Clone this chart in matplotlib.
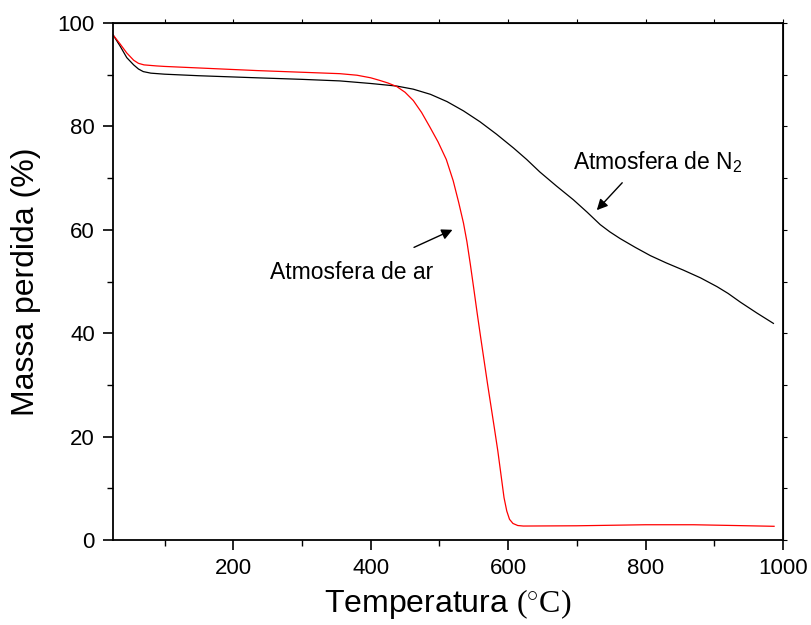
import numpy as np
import matplotlib
matplotlib.use("Agg")
import matplotlib.pyplot as plt
from matplotlib.ticker import MultipleLocator

plt.rcParams["font.family"] = ["Liberation Sans", "DejaVu Sans"]
plt.rcParams["mathtext.fontset"] = "custom"
plt.rcParams["mathtext.rm"] = "Liberation Serif"
plt.rcParams["mathtext.it"] = "Liberation Serif:italic"

# TGA curve under nitrogen (black)
temp_n2 = [25, 35, 45, 55, 62, 69, 80, 100, 150, 234, 300, 355, 400, 438,
           462, 487, 511, 535, 559, 583, 608, 627, 646, 670, 695, 715, 734,
           748, 763, 785, 807, 830, 855, 880, 904, 920, 938, 962, 986]
mass_n2 = [97.7, 95.6, 93.3, 91.9, 91.1, 90.6, 90.3, 90.1, 89.8, 89.4, 89.1,
           88.8, 88.3, 87.8, 87.2, 86.2, 84.8, 83.0, 80.9, 78.5, 75.8, 73.6,
           71.2, 68.5, 65.8, 63.4, 61.0, 59.6, 58.3, 56.6, 55.0, 53.6, 52.2,
           50.7, 49.0, 47.7, 46.0, 43.9, 41.9]

# TGA curve under air (red)
temp_air = [25, 35, 45, 55, 62, 70, 88, 100, 234, 355, 380, 400, 413, 425,
            438, 450, 462, 474, 486, 498, 510, 520, 528, 535, 540, 545, 550,
            555, 560, 565, 570, 575, 580, 585, 590, 594, 598, 602, 607, 614,
            622, 700, 800, 870, 930, 987]
mass_air = [97.7, 96.0, 94.2, 92.8, 92.2, 91.9, 91.7, 91.6, 90.8, 90.2, 89.9,
            89.4, 88.9, 88.4, 87.7, 86.6, 85.0, 82.7, 79.9, 77.0, 73.6, 69.5,
            65.3, 61.3, 57.7, 53.3, 48.6, 43.8, 39.2, 34.7, 30.2, 25.9, 21.6,
            17.2, 12.2, 8.2, 5.6, 4.0, 3.2, 2.8, 2.7, 2.75, 2.95, 2.95, 2.8,
            2.65]

fig = plt.figure(figsize=(8.12, 6.25), dpi=100)
ax = fig.add_axes([0.1392, 0.136, 0.8251, 0.8272])

ax.plot(temp_n2, mass_n2, color="black", lw=0.9)
ax.plot(temp_air, mass_air, color="red", lw=0.9)

ax.set_xlim(25, 1000)
ax.set_ylim(0, 100)
ax.xaxis.set_major_locator(MultipleLocator(200))
ax.xaxis.set_minor_locator(MultipleLocator(100))
ax.yaxis.set_major_locator(MultipleLocator(20))
ax.yaxis.set_minor_locator(MultipleLocator(10))
ax.tick_params(which="major", direction="out", length=7, width=1.2,
               labelsize=16, pad=6)
ax.tick_params(which="minor", direction="out", length=4, width=1.0)
for sp in ax.spines.values():
    sp.set_linewidth(1.3)

# small ticks on the top and right frame
top = ax.secondary_xaxis("top")
top.xaxis.set_major_locator(MultipleLocator(100))
top.tick_params(direction="out", length=3, width=0.8, labeltop=False)
right = ax.secondary_yaxis("right")
right.yaxis.set_major_locator(MultipleLocator(10))
right.tick_params(direction="out", length=3, width=0.8, labelright=False)

ax.set_xlabel(r"Temperatura $(^{\circ}\mathrm{C})$", fontsize=23, labelpad=6)
ax.set_ylabel("Massa perdida (%)", fontsize=23, labelpad=12)

arrow = dict(arrowstyle="-|>", color="black", lw=1.0, mutation_scale=16,
             shrinkA=0, shrinkB=0)
ax.annotate("", xy=(519, 60.0), xytext=(463, 56.6), arrowprops=arrow)
ax.annotate("", xy=(729, 63.8), xytext=(766, 69.1), arrowprops=arrow)
ax.text(253, 50.4, "Atmosfera de ar", fontsize=16.5, ha="left", va="baseline")
ax.text(695, 71.7, r"Atmosfera de N$_{\mathregular{2}}$", fontsize=16.5,
        ha="left", va="baseline")

fig.savefig("out.png", dpi=100)
